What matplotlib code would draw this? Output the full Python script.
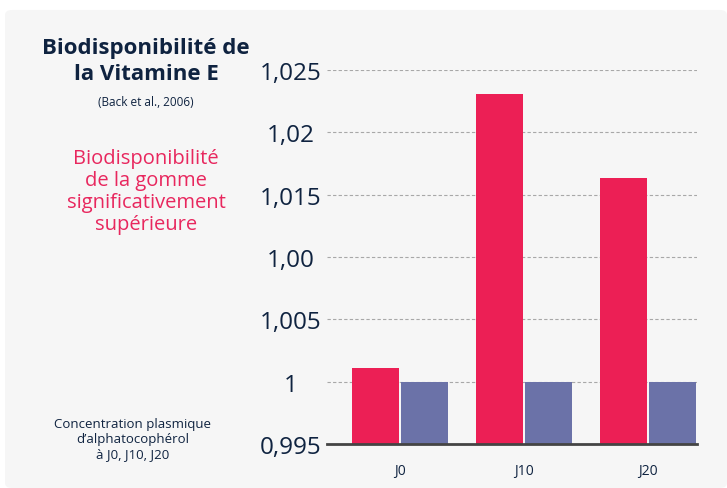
import numpy as np
import matplotlib.pyplot as plt
from matplotlib.patches import FancyBboxPatch

groupes = ["J0", "J10", "J20"]
gomme = [1.0011, 1.0231, 1.0163]
autre = [1.000, 1.000, 1.000]
graduations = [0.995, 1.000, 1.005, 1.010, 1.015, 1.020, 1.025]
etiquettes = ["0,995", "1", "1,005", "1,00", "1,015", "1,02", "1,025"]

rouge = "#ec1f55"
bleu = "#6b72a8"
marine = "#0f2340"
rose = "#e8275e"

plt.rcParams['font.family'] = ['Open Sans', 'DejaVu Sans']

W, H = 727, 489
fig = plt.figure(figsize=(W / 100, H / 100), dpi=100)
fig.patch.set_facecolor("white")

# fond gris du panneau
fond = FancyBboxPatch((5 / W, 0.0), (W - 5) / W, (H - 10) / H - 0.002,
                      boxstyle="round,pad=0,rounding_size=0.01",
                      transform=fig.transFigure, facecolor="#f6f6f6",
                      edgecolor="none", zorder=-5)
fig.patches.append(fond)

ax = fig.add_axes([327 / W, (H - 445) / H, (697 - 327) / W, (445 - 71) / H])
ax.set_facecolor("none")
ax.set_zorder(2)

x = np.arange(len(groupes))
larg = 0.379
ax.bar(x - 0.2, gomme, width=larg, color=rouge, zorder=3)
ax.bar(x + 0.2, autre, width=larg, color=bleu, zorder=3)

ax.set_ylim(0.995, 1.025)
ax.set_xlim(-0.589, 2.395)
ax.set_yticks(graduations)
ax.set_yticklabels(etiquettes, fontsize=17.5, color=marine, ha="center")
ax.set_xticks(x)
ax.set_xticklabels(groupes, fontsize=10, color=marine)
ax.tick_params(axis="y", length=0, pad=26)
ax.tick_params(axis="x", length=0, pad=14)

for v in graduations[1:]:
    ax.axhline(v, color="#a8a8a8", lw=0.8, ls=(0, (3, 2)), zorder=1)
for s in ["top", "right", "left"]:
    ax.spines[s].set_visible(False)
ax.spines["bottom"].set_color("#444444")
ax.spines["bottom"].set_linewidth(2)
ax.spines["bottom"].set_zorder(4)

def px(xp, yp):
    return xp / W, 1 - yp / H

fig.text(*px(146, 49), "Biodisponibilité de", ha="center", va="center",
         fontsize=16, fontweight="bold", color=marine)
fig.text(*px(146, 75), "la Vitamine E", ha="center", va="center",
         fontsize=16, fontweight="bold", color=marine)
fig.text(*px(146, 103), "(Back et al., 2006)", ha="center", va="center",
         fontsize=8.5, color=marine)
fig.text(*px(146, 192), "Biodisponibilité\nde la gomme\nsignificativement\nsupérieure",
         ha="center", va="center", fontsize=14.5, color=rose, linespacing=1.12)
fig.text(*px(133, 440), "Concentration plasmique\nd’alphatocophérol\nà J0, J10, J20",
         ha="center", va="center", fontsize=9.5, color=marine, linespacing=1.2)

fig.savefig("out.png", dpi=100)
